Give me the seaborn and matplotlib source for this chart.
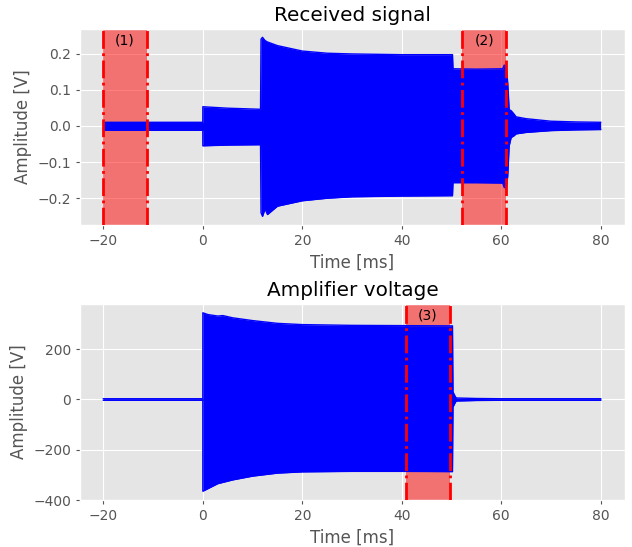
import numpy as np
import matplotlib
matplotlib.use("Agg")
import matplotlib.pyplot as plt
import matplotlib.transforms as mtransforms
import seaborn as sns

# received signal envelope, time in ms, amplitude in V
rx_time = [-20, -10, -0.01, 0.0, 5, 11.6, 11.7, 12.0, 12.5, 13, 15, 20, 25, 30, 40,
           50.2, 50.3, 55, 60.3, 60.6, 61.0, 61.3, 61.6, 62.0, 62.5, 63, 65, 70, 75, 80]
rx_upper = [0.010, 0.010, 0.010, 0.053, 0.049, 0.046, 0.240, 0.245, 0.236, 0.232, 0.222,
            0.207, 0.201, 0.199, 0.197, 0.197, 0.158, 0.157, 0.158, 0.168, 0.165, 0.120,
            0.045, 0.042, 0.034, 0.025, 0.020, 0.013, 0.011, 0.010]
rx_lower = [-0.012, -0.012, -0.012, -0.055, -0.053, -0.052, -0.240, -0.250, -0.230, -0.245,
            -0.222, -0.207, -0.200, -0.196, -0.194, -0.193, -0.157, -0.157, -0.158, -0.170,
            -0.172, -0.140, -0.055, -0.032, -0.028, -0.022, -0.018, -0.013, -0.011, -0.010]

# amplifier voltage envelope, amplitude in V
amp_time = [-20, -0.01, 0.0, 1, 3, 4, 6, 10, 15, 20, 30, 40, 50.2, 50.3, 50.8, 51, 55, 60, 80]
amp_upper = [3, 3, 345, 338, 332, 334, 325, 314, 303, 298, 295, 294, 293, 30, 10, 6, 4, 3, 3]
amp_lower = [-3, -3, -365, -355, -335, -330, -320, -305, -293, -288, -286, -286, -287,
             -30, -10, -6, -4, -3, -3]

# analysis windows
rx_windows = [(-20, -11.3, "(1)"), (52.2, 60.9, "(2)")]
amp_windows = [(40.9, 49.6, "(3)")]

plt.style.use("ggplot")
fig, axes = plt.subplots(2, 1, figsize=(6.32, 5.47), dpi=100)
fig.subplots_adjust(left=0.1266, right=0.989, top=0.947, bottom=0.0859, hspace=0.403)


def draw(ax, t, up, lo, windows, title):
    sns.lineplot(x=t, y=up, ax=ax, color="blue", lw=1, zorder=2)
    sns.lineplot(x=t, y=lo, ax=ax, color="blue", lw=1, zorder=2)
    ax.fill_between(t, lo, up, color="blue", lw=0, zorder=2)
    trans = mtransforms.blended_transform_factory(ax.transData, ax.transAxes)
    for a, b, lab in windows:
        ax.axvspan(a, b, color="red", alpha=0.5, lw=0, zorder=1)
        ax.axvline(a, color="red", ls="-.", lw=2, zorder=3)
        ax.axvline(b, color="red", ls="-.", lw=2, zorder=3)
        ax.text((a + b) / 2, 0.94, lab, transform=trans, ha="center", va="center",
                fontsize=10, color="black", zorder=4)
    ax.set_title(title)
    ax.set_xlabel("Time [ms]")
    ax.set_ylabel("Amplitude [V]")
    ax.tick_params(length=3, color="#555555")


draw(axes[0], rx_time, rx_upper, rx_lower, rx_windows, "Received signal")
draw(axes[1], amp_time, amp_upper, amp_lower, amp_windows, "Amplifier voltage")
axes[0].set_xlim(-24.7, 84.9)
axes[1].set_xlim(-24.7, 84.9)
axes[0].set_ylim(-0.274, 0.268)
axes[1].set_ylim(-398, 380)
axes[0].set_yticks([-0.2, -0.1, 0.0, 0.1, 0.2])
axes[1].set_yticks([-400, -200, 0, 200])

plt.savefig("out.png", dpi=100)
